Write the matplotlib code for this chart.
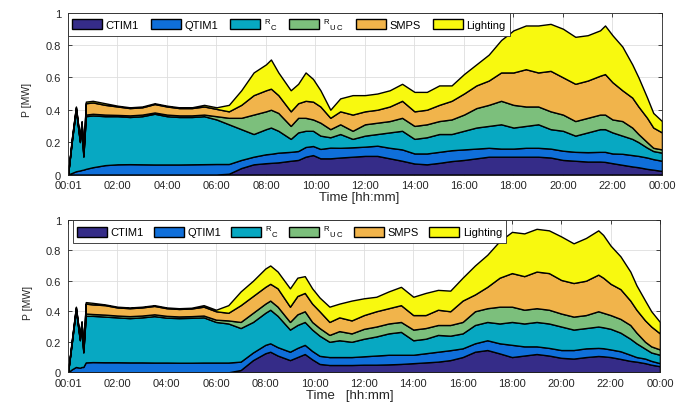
import numpy as np
import matplotlib
matplotlib.use("Agg")
import matplotlib.pyplot as plt
from matplotlib.ticker import FuncFormatter

plt.rcParams["font.family"] = ["Liberation Sans", "DejaVu Sans"]
plt.rcParams["mathtext.fontset"] = "custom"
plt.rcParams["mathtext.rm"] = "Liberation Sans"
plt.rcParams["mathtext.it"] = "Liberation Sans"

# time of day in hours (00:01 .. 24:00)
hours = [0, 0.16, 0.32, 0.48, 0.55, 0.62, 0.72, 1.0, 1.5, 2.0, 2.5, 3.0, 3.5, 4.0, 4.5,
         5.0, 5.5, 6.0, 6.5, 7.0, 7.5, 8.0, 8.2, 8.5, 9.0, 9.3, 9.6, 9.9, 10.2, 10.6,
         11.0, 11.5, 12.0, 12.5, 13.0, 13.5, 14.0, 14.5, 15.0, 15.5, 16.0, 16.5, 17.0,
         17.5, 18.0, 18.5, 19.0, 19.5, 20.0, 20.5, 21.0, 21.5, 21.7, 22.0, 22.4, 22.8,
         23.05, 23.4, 23.65, 24.0]

xtick_labels = ["00:01", "02:00", "04:00", "06:00", "08:00", "10:00", "12:00",
                "14:00", "16:00", "18:00", "20:00", "22:00", "00:00"]

labels = ["CTIM1", "QTIM1", r"${}^{\mathrm{R}}{}_{\mathrm{C}}$",
          r"${}^{\mathrm{R}}{}_{\mathrm{U\ C}}$", "SMPS", "Lighting"]
colors = ["#352c88", "#0f6fda", "#07a8c2", "#7cbf7c", "#f1b44b", "#f8f90f"]

# stacked levels: upper edge of each band [MW]
# --- upper panel ---
top_ctim1 = [0, 0, 0, 0, 0, 0, 0, 0, 0, 0, 0, 0, 0, 0, 0,
             0, 0, 0, .005, .04, .063, .07, .072, .075, .085, .09, .11, .12, .10, .10,
             .105, .11, .115, .115, .10, .085, .068, .063, .072, .083, .09, .10, .11,
             .11, .11, .11, .11, .105, .09, .085, .08, .08, .078, .07, .06, .05,
             .045, .035, .03, .022]
top_qtim1 = [0, .01, .02, .025, .028, .03, .035, .045, .058, .063, .064, .063, .062, .062, .062,
             .063, .064, .065, .065, .09, .11, .125, .128, .135, .14, .145, .17, .176, .158, .166,
             .165, .168, .172, .178, .165, .155, .13, .13, .14, .15, .155, .16, .165,
             .16, .16, .165, .165, .16, .147, .14, .138, .14, .14, .13, .128, .12,
             .115, .105, .095, .085]
top_rc = [0, .21, .40, .20, .31, .11, .36, .365, .36, .36, .355, .36, .375, .36, .355,
          .355, .36, .34, .31, .28, .25, .28, .29, .27, .22, .26, .27, .27, .24, .23,
          .25, .22, .24, .25, .26, .27, .22, .23, .25, .25, .27, .29, .30,
          .31, .29, .30, .31, .28, .27, .24, .26, .28, .28, .26, .24, .22,
          .20, .166, .145, .135]
top_ruc = [0, .215, .405, .205, .315, .115, .37, .375, .37, .368, .365, .37, .383, .37, .365,
           .365, .37, .36, .35, .35, .37, .39, .40, .38, .30, .35, .35, .34, .32, .28,
           .31, .27, .31, .32, .33, .35, .30, .31, .33, .34, .37, .41, .43,
           .455, .43, .42, .42, .39, .37, .33, .35, .37, .37, .34, .33, .29,
           .25, .20, .165, .155]
top_smps = [0, .225, .415, .215, .325, .122, .44, .445, .43, .42, .41, .415, .435, .42, .41,
            .41, .42, .405, .39, .43, .49, .52, .53, .49, .39, .44, .455, .45, .42, .35,
            .39, .37, .39, .40, .42, .455, .39, .40, .43, .455, .50, .55, .58,
            .63, .63, .65, .63, .64, .60, .56, .58, .61, .62, .57, .52, .475,
            .42, .35, .29, .26]
top_light = [0, .23, .42, .22, .33, .125, .45, .455, .44, .425, .415, .42, .44, .425, .415,
             .415, .43, .415, .43, .52, .63, .68, .71, .63, .52, .56, .63, .59, .52, .40,
             .47, .49, .49, .50, .52, .56, .51, .51, .55, .55, .62, .68, .74,
             .83, .89, .92, .92, .93, .90, .85, .86, .89, .92, .86, .79, .68,
             .60, .475, .38, .33]

# --- lower panel ---
bot_ctim1 = [0, 0, 0, 0, 0, 0, 0, 0, 0, 0, 0, 0, 0, 0, 0,
             0, 0, 0, 0, .015, .08, .125, .135, .11, .08, .10, .12, .085, .055, .048,
             .048, .048, .05, .05, .052, .055, .06, .065, .07, .08, .10, .135, .146,
             .124, .10, .11, .12, .11, .095, .09, .10, .107, .105, .10, .088, .075,
             .07, .06, .05, .04]
bot_qtim1 = [0, .02, .035, .03, .035, .035, .065, .067, .066, .066, .065, .065, .064, .064, .063,
             .063, .064, .064, .064, .07, .13, .18, .19, .165, .135, .16, .18, .14, .108, .10,
             .10, .10, .105, .11, .115, .115, .115, .125, .135, .145, .157, .19, .21,
             .19, .18, .17, .17, .16, .146, .146, .157, .16, .158, .15, .138, .115,
             .10, .09, .075, .06]
bot_rc = [0, .20, .41, .21, .32, .13, .37, .37, .365, .36, .355, .36, .368, .358, .355,
          .357, .36, .33, .32, .29, .33, .39, .41, .37, .28, .31, .33, .28, .24, .20,
          .21, .20, .22, .235, .255, .265, .21, .22, .245, .24, .255, .31, .33,
          .32, .33, .32, .33, .32, .30, .28, .29, .30, .295, .285, .26, .22,
          .19, .155, .13, .115]
bot_ruc = [0, .205, .415, .215, .325, .135, .385, .382, .378, .372, .368, .372, .38, .37, .366,
           .368, .372, .345, .34, .33, .39, .45, .47, .43, .33, .38, .40, .33, .29, .245,
           .27, .255, .285, .30, .32, .33, .28, .29, .31, .31, .33, .40, .42,
           .43, .43, .41, .42, .41, .385, .365, .375, .40, .39, .375, .35, .31,
           .26, .20, .17, .15]
bot_smps = [0, .215, .425, .225, .33, .14, .45, .445, .44, .425, .42, .425, .435, .42, .415,
            .418, .43, .40, .39, .44, .50, .56, .58, .55, .43, .50, .52, .45, .40, .33,
            .36, .34, .375, .40, .42, .44, .375, .375, .41, .40, .47, .51, .56,
            .62, .65, .63, .66, .65, .605, .585, .60, .64, .62, .58, .545, .47,
            .41, .34, .30, .255]
bot_light = [0, .22, .43, .23, .335, .145, .46, .455, .445, .43, .425, .43, .44, .425, .42,
             .423, .44, .41, .44, .53, .60, .68, .70, .66, .55, .62, .63, .55, .49, .43,
             .45, .47, .485, .495, .53, .56, .495, .52, .54, .535, .62, .70, .77,
             .86, .92, .91, .94, .93, .89, .845, .88, .93, .90, .83, .76, .66,
             .57, .47, .40, .33]


def draw_panel(ax, levels, leg_anchor, colspace, xlabel, xlab_pos, ylab_pos):
    lv = np.vstack([np.zeros(len(hours))] + [np.asarray(l, dtype=float) for l in levels])
    bands = np.diff(lv, axis=0)
    ax.stackplot(hours, bands, colors=colors, labels=labels,
                 edgecolor="black", linewidth=1.0)

    ax.set_xlim(0, 24)
    ax.set_ylim(0, 1)
    ax.set_xticks(range(0, 25, 2))
    ax.set_xticklabels(xtick_labels)
    ax.set_yticks(np.arange(0, 1.01, 0.2))
    ax.yaxis.set_major_formatter(FuncFormatter(lambda v, p: f"{v:g}"))

    ax.grid(True, color="#dedede", linewidth=0.6)
    ax.set_axisbelow(True)
    ax.tick_params(direction="in", top=True, right=True, length=3, width=0.6,
                   labelsize=8, colors="#262626")
    ax.tick_params(axis="x", pad=4)
    ax.tick_params(axis="y", pad=5)
    for s in ax.spines.values():
        s.set_color("#262626")
        s.set_linewidth(0.6)

    ax.set_ylabel("P [MW]", fontsize=7.5, color="#262626")
    ax.yaxis.set_label_coords(*ylab_pos)
    ax.set_xlabel(xlabel, fontsize=9.5, color="#262626")
    ax.xaxis.set_label_coords(*xlab_pos)

    leg = ax.legend(loc="upper left", bbox_to_anchor=leg_anchor, ncol=6, fontsize=8,
                    handlelength=2.7, handleheight=1.0, handletextpad=0.35,
                    columnspacing=colspace, borderpad=0.35, borderaxespad=0,
                    fancybox=False, framealpha=1, edgecolor="#262626")
    leg.get_frame().set_linewidth(0.6)


fig = plt.figure(figsize=(6.78, 4.06), dpi=100)
ax1 = fig.add_axes([0.1003, 0.5677, 0.876, 0.399])
ax2 = fig.add_axes([0.1003, 0.0805, 0.873, 0.376])

draw_panel(ax1, [top_ctim1, top_qtim1, top_rc, top_ruc, top_smps, top_light],
           (0, 1), 1.05, "Time [hh:mm]", (0.49, -0.1), (-0.06, 0.466))
draw_panel(ax2, [bot_ctim1, bot_qtim1, bot_rc, bot_ruc, bot_smps, bot_light],
           (0.008, 1), 0.9, "Time   [hh:mm]", (0.476, -0.107), (-0.059, 0.46))

fig.savefig("out.png", dpi=100)
